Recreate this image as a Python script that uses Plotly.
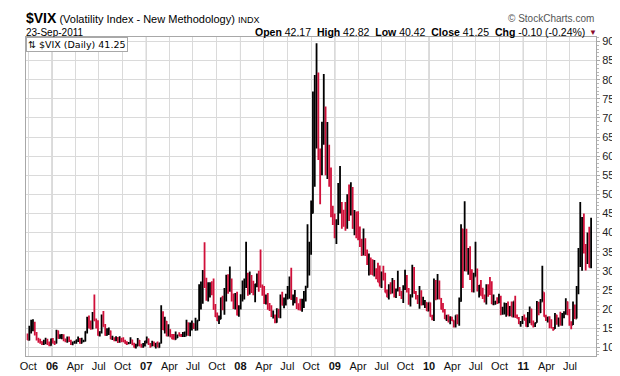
import pandas as pd
import plotly.graph_objects as go

# ---------------- weekly OHLC values (Sep-2005 .. Sep-2011) ----------------
open_ = [
    # 2005
    12.6, 11.9, 14.5, 14.7, 15.8, 13.4, 12.0, 11.5, 11.4, 10.8, 11.4, 11.9, 10.9, 10.5,
    # 2006
    12.1, 11.1, 11.1, 14.3, 12.4, 12.9, 12.9, 11.8, 11.7, 11.9, 11.6, 10.9, 11.2, 11.4, 11.9, 12.0, 11.1,
    11.6, 11.6, 14.1, 16.9, 15.1, 14.9, 18.4, 17.0, 15.3, 13.1, 14.0, 18.1, 15.4, 13.2, 14.2, 14.2, 12.2,
    12.4, 11.9, 12.3, 11.5, 12.3, 11.8, 11.5, 11.0, 11.0, 11.1, 11.9, 10.9, 10.0, 10.4, 11.8, 10.4, 10.1, 10.9,
    # 2007
    11.6, 12.1, 10.8, 10.4, 11.1, 10.3, 11.1, 10.0, 11.1, 18.6, 14.6, 16.8, 13.0, 14.6, 12.8, 12.2, 12.1,
    12.5, 13.2, 13.0, 12.9, 13.0, 13.0, 16.4, 13.2, 15.5, 16.2, 15.0, 15.2, 17.0, 24.2, 25.2, 28.0, 26.8,
    22.5, 23.4, 26.2, 26.0, 20.0, 18.0, 17.0, 17.4, 22.9, 19.9, 23.0, 28.5, 25.5, 26.8, 22.9, 20.6, 21.9, 18.5,
    # 2008
    20.3, 23.2, 23.7, 27.2, 27.3, 24.0, 28.0, 25.0, 24.1, 26.5, 27.5, 27.0, 26.0, 25.7, 22.5, 23.5, 20.3,
    20.0, 18.2, 18.3, 16.5, 19.8, 17.8, 23.6, 21.1, 22.2, 23.4, 23.4, 27.5, 22.6, 22.7, 22.9, 20.7, 20.0,
    19.8, 20.6, 23.1, 25.7, 32.1, 34.7, 45.1, 69.9, 70.3, 79.1, 59.9, 56.1, 66.3, 72.7, 55.3, 59.9, 54.3, 44.9,
    # 2009
    43.4, 39.2, 42.8, 46.1, 47.3, 44.8, 43.4, 41.3, 49.3, 46.4, 49.3, 41.2, 43.4, 40.4, 39.6, 36.5, 34.6,
    35.8, 34.8, 32.1, 33.1, 32.6, 28.9, 29.6, 28.2, 27.0, 25.9, 29.2, 29.0, 24.3, 23.1, 25.9, 24.8, 25.0,
    23.4, 25.0, 25.3, 24.2, 23.0, 25.6, 28.7, 25.0, 21.4, 23.6, 30.7, 24.2, 23.3, 22.2, 24.7, 21.2, 21.6, 21.7,
    # 2010
    19.5, 21.7, 18.1, 17.9, 27.3, 24.6, 26.1, 22.7, 20.0, 19.5, 17.4, 17.6, 16.9, 17.8, 17.0, 16.1, 18.4,
    16.3, 22.1, 40.9, 31.2, 40.1, 32.1, 35.5, 28.8, 25.1, 28.5, 30.1, 24.9, 26.2, 23.5, 23.5, 22.1, 26.2,
    25.5, 24.5, 21.3, 21.9, 22.0, 21.7, 22.5, 18.9, 19.1, 19.1, 21.2, 18.3, 20.6, 18.0, 22.0, 17.9, 17.6, 16.1, 16.5,
    # 2011
    17.8, 17.1, 15.5, 18.5, 20.0, 15.9, 15.7, 16.4, 19.2, 19.1, 21.9, 24.4, 18.0, 17.4, 17.9, 15.3, 15.1,
    14.8, 18.4, 17.1, 17.4, 15.9, 17.9, 18.9, 21.9, 19.0, 15.9, 15.9, 19.5, 17.5, 25.3, 32.0, 36.4, 43.0,
    35.6, 33.9, 38.5, 30.9,
]
high = [
    # 2005
    13.6, 15.6, 17.2, 17.3, 16.7, 14.0, 12.5, 12.2, 11.6, 12.0, 12.5, 12.2, 11.5, 12.3,
    # 2006
    12.4, 11.7, 14.6, 14.4, 13.4, 13.5, 13.4, 12.3, 12.8, 12.8, 12.0, 11.5, 11.7, 12.0, 12.8, 12.4, 12.5,
    12.0, 14.2, 18.0, 18.3, 17.0, 19.2, 23.8, 17.5, 17.1, 14.2, 18.6, 19.5, 16.1, 15.0, 15.2, 14.4, 13.0,
    12.6, 12.9, 12.7, 12.9, 12.4, 12.6, 12.0, 11.6, 11.4, 12.6, 12.0, 11.2, 10.9, 12.4, 11.9, 10.9, 11.1, 11.7,
    # 2007
    12.8, 12.3, 11.1, 11.7, 11.5, 11.1, 11.5, 11.2, 21.0, 19.4, 18.0, 16.9, 16.0, 14.7, 13.5, 13.5, 14.1,
    13.3, 13.9, 13.5, 14.0, 14.1, 17.2, 16.5, 16.5, 17.0, 16.3, 17.7, 17.1, 26.5, 27.2, 30.2, 37.5, 28.2,
    27.0, 27.0, 27.3, 28.0, 21.3, 19.1, 18.3, 23.0, 23.5, 25.5, 29.0, 29.1, 31.1, 28.0, 24.1, 24.2, 24.5, 21.0,
    # 2008
    23.9, 27.5, 28.0, 37.6, 29.5, 29.8, 28.9, 27.4, 26.6, 29.3, 30.0, 35.6, 26.4, 26.0, 23.8, 24.2, 21.6,
    21.0, 19.6, 18.6, 20.2, 20.1, 23.8, 24.5, 23.0, 24.0, 26.0, 28.5, 30.8, 23.8, 25.0, 23.1, 21.5, 22.7,
    22.7, 24.7, 26.1, 42.2, 37.6, 48.4, 76.9, 81.2, 89.5, 81.9, 62.0, 69.0, 81.5, 73.0, 68.9, 63.0, 57.0, 47.0,
    # 2009
    45.0, 43.5, 53.0, 57.4, 48.0, 46.0, 48.0, 50.0, 52.6, 53.2, 51.9, 45.9, 45.5, 45.6, 41.6, 38.4, 41.1,
    38.5, 35.6, 34.5, 33.5, 33.0, 32.8, 30.7, 32.1, 31.4, 29.8, 31.3, 29.5, 25.1, 26.5, 27.0, 28.1, 27.6,
    25.4, 30.0, 25.8, 24.8, 26.2, 30.3, 28.9, 25.5, 23.9, 31.6, 31.0, 24.7, 23.7, 26.0, 24.9, 23.2, 22.4, 21.8,
    # 2010
    21.7, 21.7, 18.5, 28.0, 27.6, 29.2, 27.5, 22.9, 21.6, 20.0, 18.5, 18.6, 18.1, 18.0, 17.1, 18.4, 18.6,
    23.0, 42.2, 41.0, 48.2, 41.0, 36.0, 36.4, 30.4, 29.5, 37.6, 30.6, 26.3, 27.6, 25.6, 23.8, 26.5, 26.5,
    28.4, 27.3, 23.8, 22.1, 23.1, 24.0, 23.5, 20.6, 21.7, 21.6, 22.0, 20.8, 22.0, 22.0, 23.5, 18.6, 17.9, 16.9, 18.2,
    # 2011
    18.6, 17.8, 19.2, 20.7, 20.1, 17.0, 16.5, 22.1, 21.9, 22.6, 31.3, 24.4, 18.5, 18.0, 18.1, 17.3, 15.3,
    19.0, 18.5, 17.8, 19.3, 19.0, 19.4, 22.8, 22.0, 20.0, 16.8, 22.0, 21.2, 26.0, 36.0, 48.0, 44.1, 45.0,
    37.0, 40.0, 41.5, 43.9,
]
low = [
    # 2005
    11.9, 11.8, 13.6, 14.2, 13.1, 11.8, 11.2, 10.9, 10.6, 10.6, 10.8, 10.6, 10.3, 10.4,
    # 2006
    11.0, 10.6, 11.0, 12.2, 12.2, 12.1, 11.6, 11.3, 11.2, 11.4, 10.6, 10.5, 10.9, 10.9, 11.4, 10.9, 11.0,
    11.3, 11.5, 13.6, 14.9, 14.6, 14.7, 16.9, 14.9, 13.0, 12.8, 13.6, 15.4, 13.0, 13.0, 13.2, 12.1, 11.9,
    11.6, 11.6, 11.1, 11.2, 11.3, 11.4, 10.9, 10.6, 10.8, 10.9, 10.5, 9.9, 9.7, 10.3, 10.3, 9.9, 9.9, 10.2,
    # 2007
    11.0, 10.6, 9.9, 10.3, 10.3, 9.7, 10.0, 9.9, 11.0, 14.5, 13.6, 12.9, 12.9, 12.6, 12.1, 12.1, 12.0,
    12.4, 12.9, 12.7, 12.7, 12.7, 13.0, 13.1, 12.9, 14.4, 14.8, 14.3, 14.4, 16.9, 19.9, 21.4, 25.5, 22.2,
    22.0, 23.0, 23.6, 19.8, 17.9, 16.9, 16.1, 17.3, 19.7, 18.5, 22.0, 24.0, 24.5, 22.0, 20.0, 19.9, 18.3, 18.0,
    # 2008
    19.9, 22.0, 22.5, 25.5, 23.5, 23.8, 24.2, 23.6, 21.8, 25.7, 24.5, 25.6, 23.5, 21.3, 21.2, 19.8, 19.5,
    17.9, 17.5, 16.3, 16.4, 17.7, 17.6, 20.9, 20.2, 20.9, 22.5, 22.7, 22.4, 20.9, 21.5, 20.0, 19.7, 19.6,
    19.3, 20.3, 22.0, 25.6, 28.8, 34.2, 45.0, 52.0, 62.0, 59.0, 47.4, 55.0, 63.0, 55.0, 54.0, 52.0, 44.0, 42.0,
    # 2009
    38.5, 37.0, 42.0, 45.0, 41.0, 41.5, 40.5, 41.0, 43.0, 44.5, 41.0, 39.3, 38.5, 38.0, 36.2, 33.9, 34.0,
    33.9, 31.5, 28.8, 29.0, 28.9, 28.5, 27.8, 27.0, 25.9, 25.5, 27.5, 24.3, 23.1, 22.5, 23.9, 24.1, 23.0,
    22.9, 24.6, 23.4, 22.6, 21.6, 25.0, 24.3, 21.1, 20.7, 23.0, 24.0, 22.5, 21.3, 20.1, 20.9, 21.0, 20.3, 19.5,
    # 2010
    19.4, 18.0, 17.1, 16.9, 22.3, 22.5, 22.6, 19.9, 19.1, 17.4, 16.9, 16.5, 16.0, 16.9, 15.2, 15.2, 16.0,
    15.6, 21.9, 25.5, 29.9, 29.8, 29.0, 27.6, 24.4, 24.3, 28.5, 24.6, 23.0, 23.5, 22.6, 21.7, 21.2, 23.2,
    23.7, 21.3, 21.0, 21.1, 21.3, 21.5, 18.4, 18.5, 18.6, 18.0, 18.3, 18.2, 18.0, 17.8, 17.7, 17.5, 16.1, 15.4, 16.1,
    # 2011
    17.1, 15.4, 15.3, 16.3, 15.8, 15.2, 15.3, 16.4, 18.4, 19.0, 21.9, 18.0, 16.9, 16.5, 15.0, 15.0, 14.3,
    14.8, 15.9, 15.4, 15.7, 15.6, 17.6, 18.5, 18.4, 15.6, 14.7, 15.8, 17.4, 17.5, 23.9, 31.0, 30.0, 34.5,
    30.1, 31.8, 30.9, 30.7,
]
close_ = [
    # 2005
    11.9, 14.5, 14.7, 15.8, 13.4, 12.0, 11.5, 11.4, 10.8, 11.4, 11.9, 10.9, 10.5, 12.1,
    # 2006
    11.1, 11.1, 14.3, 12.4, 12.9, 12.9, 11.8, 11.7, 11.9, 11.6, 10.9, 11.2, 11.4, 11.9, 12.0, 11.1, 11.6,
    11.6, 14.1, 16.9, 15.1, 14.9, 18.4, 17.0, 15.3, 13.1, 14.0, 18.1, 15.4, 13.2, 14.2, 14.2, 12.2, 12.4,
    11.9, 12.3, 11.5, 12.3, 11.8, 11.5, 11.0, 11.0, 11.1, 11.9, 10.9, 10.0, 10.4, 11.8, 10.4, 10.1, 10.9, 11.6,
    # 2007
    12.1, 10.8, 10.4, 11.1, 10.3, 11.1, 10.0, 11.1, 18.6, 14.6, 16.8, 13.0, 14.6, 12.8, 12.2, 12.1, 12.5,
    13.2, 13.0, 12.9, 13.0, 13.0, 16.4, 13.2, 15.5, 16.2, 15.0, 15.2, 17.0, 24.2, 25.2, 28.0, 26.8, 22.5,
    23.4, 26.2, 26.0, 20.0, 18.0, 17.0, 17.4, 22.9, 19.9, 23.0, 28.5, 25.5, 26.8, 22.9, 20.6, 21.9, 18.5, 20.3,
    # 2008
    23.2, 23.7, 27.2, 27.3, 24.0, 28.0, 25.0, 24.1, 26.5, 27.5, 27.0, 26.0, 25.7, 22.5, 23.5, 20.3, 20.0,
    18.2, 18.3, 16.5, 19.8, 17.8, 23.6, 21.1, 22.2, 23.4, 23.4, 27.5, 22.6, 22.7, 22.9, 20.7, 20.0, 19.8,
    20.6, 23.1, 25.7, 32.1, 34.7, 45.1, 69.9, 70.3, 79.1, 59.9, 56.1, 66.3, 72.7, 55.3, 59.9, 54.3, 44.9, 43.4,
    # 2009
    39.2, 42.8, 46.1, 47.3, 44.8, 43.4, 41.3, 49.3, 46.4, 49.3, 41.2, 43.4, 40.4, 39.6, 36.5, 34.6, 35.8,
    34.8, 32.1, 33.1, 32.6, 28.9, 29.6, 28.2, 27.0, 25.9, 29.2, 29.0, 24.3, 23.1, 25.9, 24.8, 25.0, 23.4,
    25.0, 25.3, 24.2, 23.0, 25.6, 28.7, 25.0, 21.4, 23.6, 30.7, 24.2, 23.3, 22.2, 24.7, 21.2, 21.6, 21.7, 19.5,
    # 2010
    21.7, 18.1, 17.9, 27.3, 24.6, 26.1, 22.7, 20.0, 19.5, 17.4, 17.6, 16.9, 17.8, 17.0, 16.1, 18.4, 16.3,
    22.1, 40.9, 31.2, 40.1, 32.1, 35.5, 28.8, 25.1, 28.5, 30.1, 24.9, 26.2, 23.5, 23.5, 22.1, 26.2, 25.5,
    24.5, 21.3, 21.9, 22.0, 21.7, 22.5, 18.9, 19.1, 19.1, 21.2, 18.3, 20.6, 18.0, 22.0, 17.9, 17.6, 16.1, 16.5, 17.8,
    # 2011
    17.1, 15.5, 18.5, 20.0, 15.9, 15.7, 16.4, 19.2, 19.1, 21.9, 24.4, 18.0, 17.4, 17.9, 15.3, 15.1, 14.8,
    18.4, 17.1, 17.4, 15.9, 17.9, 18.9, 21.9, 19.0, 15.9, 15.9, 19.5, 17.5, 25.3, 32.0, 36.4, 43.0, 35.6,
    33.9, 38.5, 30.9, 41.3,
]
last_week_end = "2011-09-23"

tick_dates = [
    "2005-10-01", "2006-01-01", "2006-04-01", "2006-07-01", "2006-10-01",
    "2007-01-01", "2007-04-01", "2007-07-01", "2007-10-01",
    "2008-01-01", "2008-04-01", "2008-07-01", "2008-10-01",
    "2009-01-01", "2009-04-01", "2009-07-01", "2009-10-01",
    "2010-01-01", "2010-04-01", "2010-07-01", "2010-10-01",
    "2011-01-01", "2011-04-01", "2011-07-01",
]
tick_labels = [
    "Oct", "<b>06</b>", "Apr", "Jul", "Oct",
    "<b>07</b>", "Apr", "Jul", "Oct",
    "<b>08</b>", "Apr", "Jul", "Oct",
    "<b>09</b>", "Apr", "Jul", "Oct",
    "<b>10</b>", "Apr", "Jul", "Oct",
    "<b>11</b>", "Apr", "Jul",
]
year_starts = ["2006-01-01", "2007-01-01", "2008-01-01", "2009-01-01", "2010-01-01", "2011-01-01"]

# ---------------- layout helpers ----------------
W, H = 620, 376
L, R, T, B = 17, 32, 29, 17
PW, PH = W - L - R, H - T - B


def px(xp):
    return (xp - L) / PW


def py(yp):
    return (H - B - yp) / PH


n = len(close_)
week_end = pd.date_range(end=last_week_end, periods=n, freq="W-FRI")
x = week_end - pd.Timedelta(days=2)

RED = "#d0103a"
fig = go.Figure(
    go.Ohlc(
        x=x, open=open_, high=high, low=low, close=close_,
        increasing=dict(line=dict(color="#000000", width=1.8)),
        decreasing=dict(line=dict(color=RED, width=1.8)),
        tickwidth=0.4, hoverinfo="skip", showlegend=False,
    )
)

shapes = [
    dict(type="line", xref="x", yref="paper", x0=d, x1=d, y0=0, y1=1,
         line=dict(color="#b4b4b4", width=1), layer="below")
    for d in year_starts
]

fig.update_layout(
    width=W, height=H,
    margin=dict(l=L, r=R, t=T, b=B),
    paper_bgcolor="white", plot_bgcolor="white",
    font=dict(family="Liberation Sans, Arial, sans-serif", size=11, color="#111"),
    shapes=shapes,
    xaxis=dict(
        type="date", range=["2005-09-22", "2011-10-10"],
        tickvals=tick_dates, ticktext=tick_labels,
        showgrid=True, gridcolor="#dadada", gridwidth=1,
        showline=True, linecolor="#a8a8a8", mirror=True,
        ticks="", tickfont=dict(size=11, color="#111"),
        rangeslider=dict(visible=False), zeroline=False,
    ),
    yaxis=dict(
        side="right", range=[7.72, 91.16],
        tick0=10, dtick=5,
        showgrid=True, gridcolor="#dadada", gridwidth=1,
        showline=True, linecolor="#a8a8a8", mirror=True,
        ticks="outside", ticklen=3, tickcolor="#a8a8a8",
        minor=dict(dtick=1, ticks="outside", ticklen=2, tickcolor="#b8b8b8", showgrid=False),
        tickfont=dict(size=11, color="#222"), zeroline=False,
    ),
    annotations=[
        dict(xref="paper", yref="paper", x=px(15), y=py(9), xanchor="left", yanchor="middle",
             showarrow=False,
             text="<span style='font-size:14px'><b>$VIX</b></span> (Volatility Index - New Methodology) "
                  "<span style='font-size:9px'>INDX</span>",
             font=dict(size=11, color="#000")),
        dict(xref="paper", yref="paper", x=px(15), y=py(24), xanchor="left", yanchor="middle",
             showarrow=False, text="23-Sep-2011", font=dict(size=10, color="#000")),
        dict(xref="paper", yref="paper", x=px(579), y=py(24), xanchor="right", yanchor="middle",
             showarrow=False,
             text="<b>Open</b> 42.17&nbsp; <b>High</b> 42.82&nbsp; <b>Low</b> 40.42&nbsp; "
                  "<b>Close</b> 41.25&nbsp; <b>Chg</b> -0.10 (-0.24%)",
             font=dict(size=10.5, color="#000")),
        dict(xref="paper", yref="paper", x=px(585), y=py(24), xanchor="center", yanchor="middle",
             showarrow=False, text="▼", font=dict(size=8, color="#8b0a2a")),
        dict(xref="paper", yref="paper", x=px(588), y=py(10), xanchor="right", yanchor="middle",
             showarrow=False, text="© StockCharts.com", font=dict(size=10, color="#555")),
        dict(xref="paper", yref="paper", x=0, y=1, xanchor="left", yanchor="top",
             showarrow=False, text="⇅ $VIX (Daily) 41.25",
             font=dict(family="DejaVu Sans, Verdana, sans-serif", size=9.5, color="#000"),
             bgcolor="white", bordercolor="#a8a8a8", borderwidth=1, borderpad=1),
    ],
)

fig.write_html("out.html")
